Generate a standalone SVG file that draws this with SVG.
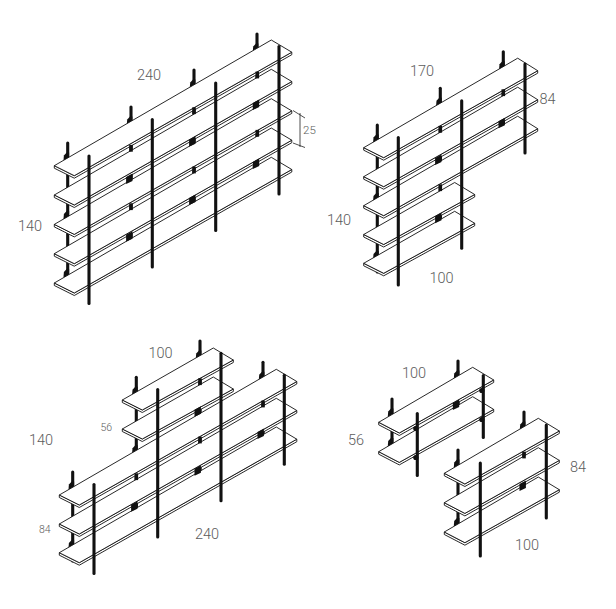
<svg xmlns="http://www.w3.org/2000/svg" width="616" height="609" viewBox="0 0 616 609">
<style>
.s{fill:#fff;stroke:#111;stroke-width:.9;stroke-linejoin:round}
.p{fill:none;stroke:#111;stroke-width:3.1;stroke-linecap:round}
.f{fill:#111}
.d{fill:none;stroke:#222;stroke-width:.8}
text{font-family:"Roboto","Liberation Sans",sans-serif;font-weight:300;fill:#5c5c5c;font-size:14.5px}
.m{font-size:10.5px}
</style>
<defs>
<path id="b" class="f" d="M-4.2,3 L-3.8,-2 L-1,-5 L1.4,-5 L1.4,3 Z"/>
<rect id="t" class="f" x="-1.8" y="-3.4" width="3.6" height="6.8"/>
<polygon id="w" class="f" points="-3.2,-2 3.2,-5.5 3.2,2 -3.2,5"/>
<g id="s240"><polygon class="s" points="0,0 0,2.5 20,12.5 237.5,-111 237.5,-113.5 20,10"/><polygon class="s" points="0,0 20,10 237.5,-113.5 217,-125.7"/></g>
<g id="s170"><polygon class="s" points="0,0 0,2.5 20,12.5 174,-74.5 174,-77 20,10"/><polygon class="s" points="0,0 20,10 174,-77 154,-89.5"/></g>
<g id="s100"><polygon class="s" points="0,0 0,2.5 20,12.5 111,-37.5 111,-40 20,10"/><polygon class="s" points="0,0 20,10 111,-40 91,-52"/></g>
<g id="s100b"><polygon class="s" points="0,0 0,2.5 20.6,13.2 115,-39.8 115,-42.3 20.6,10.7"/><polygon class="s" points="0,0 20.6,10.7 115,-42.3 94,-55"/></g>
<g id="r140"><path class="p" d="M0,0 V147"/><use href="#b" y="14.5"/><use href="#b" y="73"/><use href="#b" y="131"/></g>
<g id="r84"><path class="p" d="M0,0 V89"/><use href="#b" y="14.5"/><use href="#b" y="73"/></g>
<g id="r56"><path class="p" d="M0,0 V59"/><use href="#b" y="14.5"/><use href="#b" y="44"/></g>
<path id="f140" class="p" d="M0,0 V147.5"/>
<path id="f84" class="p" d="M0,0 V89"/>
<path id="f93" class="p" d="M0,0 V93"/>
<g id="f56"><path class="p" d="M0,0 V62"/><circle class="f" cx="-1.5" cy="15" r="2.6"/><circle class="f" cx="-1.5" cy="44" r="2.6"/></g>
</defs>

<g id="unit-240x140">
<g id="tl-rear">
<use href="#r140" x="67.7" y="143"/><use href="#r140" x="131" y="107"/><use href="#r140" x="194" y="70"/><use href="#r140" x="257" y="34"/>
</g>
<g id="tl-shelves">
<use href="#s240" x="54.3" y="283"/><use href="#s240" x="54.3" y="253.7"/><use href="#s240" x="54.3" y="224.4"/><use href="#s240" x="54.3" y="195"/><use href="#s240" x="54.3" y="165.7"/>
</g>
<g id="tl-fixings">
<use href="#t" x="131" y="148.3"/><use href="#t" x="194" y="110.7"/><use href="#t" x="257.3" y="75"/><use href="#t" x="194" y="170"/><use href="#t" x="257.3" y="133.3"/><use href="#t" x="131" y="206.7"/>
<use href="#w" x="129.3" y="179"/><use href="#w" x="192.3" y="141.7"/><use href="#w" x="256" y="105"/><use href="#w" x="129.3" y="236.7"/><use href="#w" x="192.3" y="200"/><use href="#w" x="256" y="164"/>
</g>
<g id="tl-front">
<use href="#f140" x="89" y="156"/><use href="#f140" x="152.3" y="119.5"/><use href="#f140" x="215.7" y="83"/><use href="#f140" x="279" y="46.5"/>
</g>
<path class="d" d="M300,113 V147 M293,110.5 L305,118 M293,143 L305,147.5"/>
<text x="137" y="80">240</text>
<text x="18" y="231">140</text>
<text x="303" y="134" class="m" style="font-size:11.5px">25</text>
</g>

<g id="unit-170-100x140">
<g id="tr-rear">
<use href="#r140" x="377.3" y="125"/><use href="#r140" x="440.3" y="88.3"/><use href="#r84" x="503.3" y="51.7"/>
</g>
<g id="tr-shelves">
<use href="#s100" x="363.7" y="263.3"/><use href="#s100" x="363.7" y="234.5"/><use href="#s170" x="363.7" y="205.7"/><use href="#s170" x="363.7" y="176.7"/><use href="#s170" x="363.7" y="147.7"/>
</g>
<g id="tr-fixings">
<use href="#t" x="440.3" y="129.3"/><use href="#t" x="503.3" y="92.7"/><use href="#t" x="440.3" y="187.7"/>
<use href="#w" x="438.3" y="160"/><use href="#w" x="501.7" y="123.3"/><use href="#w" x="438.3" y="218.3"/>
</g>
<g id="tr-front">
<use href="#f140" x="398.3" y="137.5"/><use href="#f140" x="461.7" y="100.7"/><use href="#f84" x="525" y="64"/>
</g>
<text x="410" y="76">170</text>
<text x="539.5" y="104">84</text>
<text x="327" y="225">140</text>
<text x="429.5" y="282.5">100</text>
</g>

<g id="unit-240-100">
<g id="bl-rear">
<use href="#r84" x="72.7" y="472"/><use href="#r140" x="136.3" y="377.3"/><use href="#r140" x="200" y="341"/><use href="#r84" x="263" y="362.3"/>
</g>
<g id="bl-shelves">
<use href="#s240" x="59.3" y="552.7"/><use href="#s240" x="59.3" y="524"/><use href="#s240" x="59.3" y="495"/><use href="#s100" x="122.3" y="429"/><use href="#s100" x="122.3" y="400"/>
</g>
<g id="bl-fixings">
<use href="#t" x="200" y="381.7"/><use href="#t" x="136.3" y="476.7"/><use href="#t" x="200" y="440"/><use href="#t" x="263" y="404"/>
<use href="#w" x="197.7" y="411.7"/><use href="#w" x="134.3" y="506.7"/><use href="#w" x="197.7" y="470.7"/><use href="#w" x="260.7" y="434"/>
</g>
<g id="bl-front">
<use href="#f84" x="94" y="484.5"/><use href="#f140" x="157.7" y="389.5"/><use href="#f140" x="221" y="353.3"/><use href="#f84" x="284.3" y="375.3"/>
</g>
<text x="148.5" y="357.5">100</text>
<text x="100.5" y="431" class="m">56</text>
<text x="29" y="444.5">140</text>
<text x="39" y="532.5" class="m">84</text>
<text x="195" y="538.5">240</text>
</g>

<g id="unit-100x56">
<g id="br-a-rear"><use href="#r56" x="392" y="399"/><use href="#r56" x="458" y="361"/></g>
<g id="br-a-shelves"><use href="#s100b" x="378.7" y="451.7"/><use href="#s100b" x="378.7" y="422.3"/></g>
<use id="br-a-fixing" href="#w" x="456" y="405"/>
<g id="br-a-front"><use href="#f56" x="417.3" y="413.5"/><use href="#f56" x="483.3" y="375.5"/></g>
<text x="402" y="378">100</text>
<text x="348" y="445">56</text>
</g>

<g id="unit-100x84">
<g id="br-b-rear"><use href="#r84" x="458" y="450"/><use href="#r84" x="524" y="412"/></g>
<g id="br-b-shelves"><use href="#s100b" x="444.3" y="532"/><use href="#s100b" x="444.3" y="502.7"/><use href="#s100b" x="444.3" y="473.3"/></g>
<g id="br-b-fixings"><use href="#t" x="524" y="455"/><use href="#w" x="522.7" y="486"/></g>
<g id="br-b-front"><use href="#f93" x="480.3" y="463"/><use href="#f93" x="546.3" y="425"/></g>
<text x="570" y="472">84</text>
<text x="515" y="549.5">100</text>
</g>
</svg>
